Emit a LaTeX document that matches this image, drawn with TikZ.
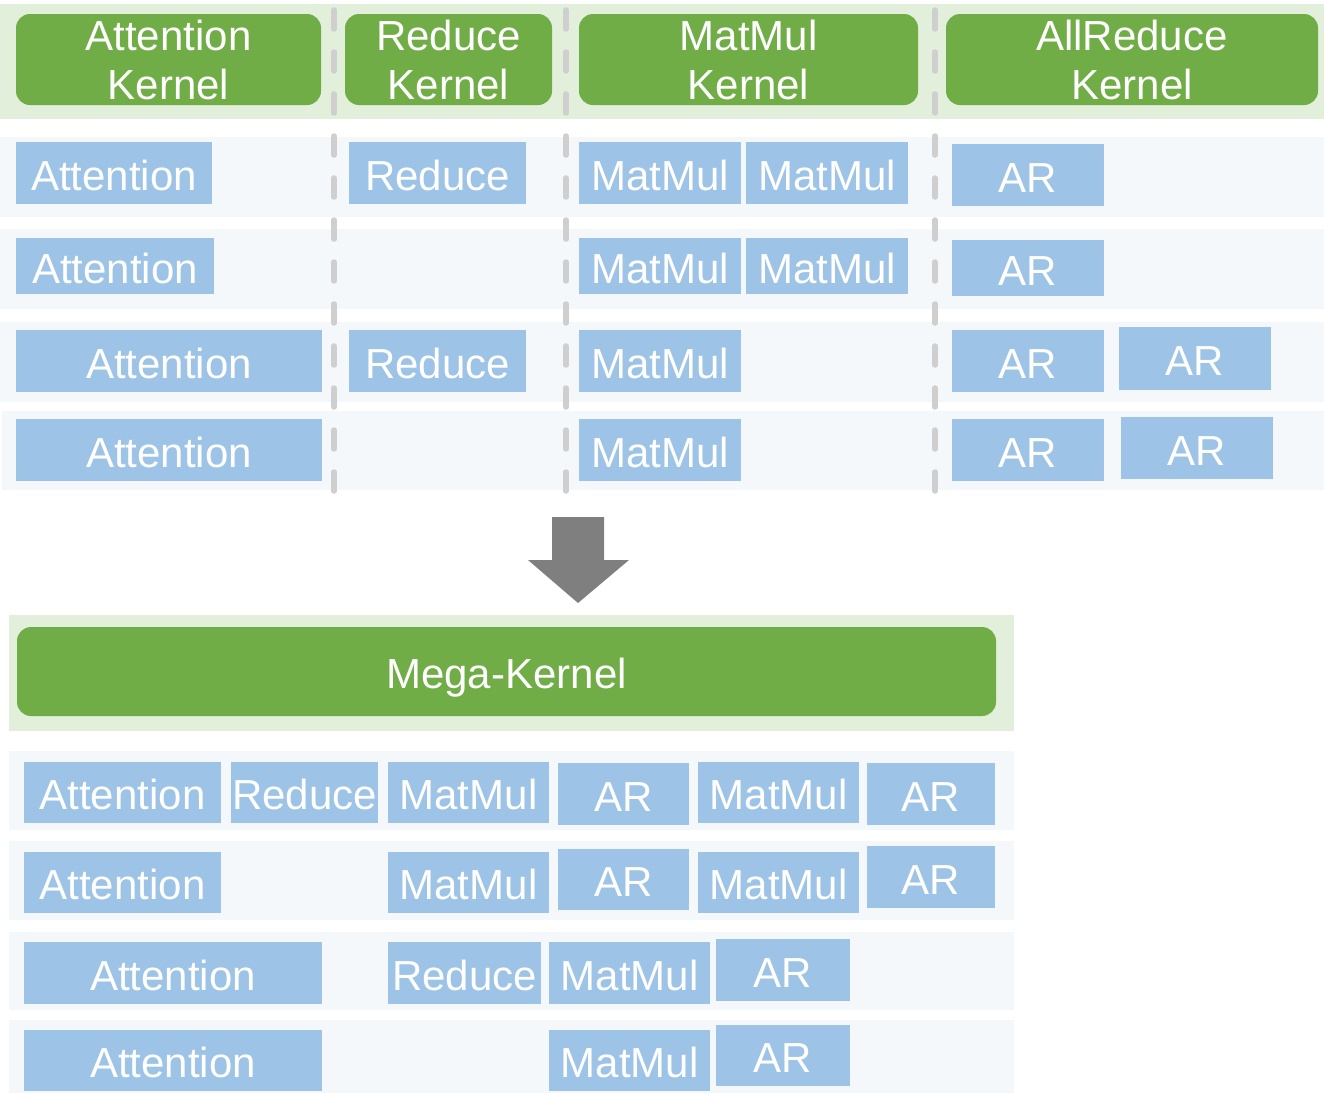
\documentclass[tikz,border=0pt]{standalone}
\usepackage{fontspec}
\setmainfont{Liberation Sans}

\definecolor{kgreen}{HTML}{70AD47}
\definecolor{kband}{HTML}{E2EFDA}
\definecolor{opblue}{HTML}{9DC3E6}
\definecolor{rowbg}{HTML}{F4F8FB}
\definecolor{sepgray}{HTML}{CFCFCF}
\definecolor{arrowgray}{HTML}{7F7F7F}

\tikzset{
  lbl/.style={font=\fontsize{42}{49}\selectfont, text=white, inner sep=0pt, align=center},
  oneline/.style={text height=34pt, text depth=0pt},
  opbox/.style={lbl, oneline, fill=opblue},
  kernelbox/.style={lbl, fill=kgreen, rounded corners=14pt},
  band/.style={fill=kband},
  rowband/.style={fill=rowbg},
  sepline/.style={draw=sepgray, line width=5.5pt, line cap=round, dash pattern=on 19pt off 23pt},
}

% \boxat[style]{name}{x1}{y1}{x2}{y2}{text}: box given by its corners (y grows downwards)
\newcommand\boxat[7][opbox]{%
  \node[#1, minimum width={#5-#3}, minimum height={#6-#4}]
    (#2) at ({(#3+#5)/2},{(#4+#6)/2}) {#7};}

\begin{document}
\begin{tikzpicture}[x=1pt, y=-1pt]
\useasboundingbox (0,0) rectangle (1324,1093);

% ---------- separate kernels ----------
\fill[band] (0,4) rectangle (1324,119);
\fill[rowband] (0,137) rectangle (1324,217);
\fill[rowband] (0,229) rectangle (1324,309);
\fill[rowband] (0,322) rectangle (1324,402);
\fill[rowband] (2,411) rectangle (1324,490);

\foreach \sx in {334,566,935}
  \draw[sepline] (\sx,10) -- (\sx,492);

\boxat[kernelbox]{kAtt}{16}{14}{321}{105}{Attention\\Kernel}
\boxat[kernelbox]{kRed}{345}{14}{552}{105}{Reduce\\Kernel}
\boxat[kernelbox]{kMM}{579}{14}{918}{105}{MatMul\\Kernel}
\boxat[kernelbox]{kAR}{946}{14}{1318}{105}{AllReduce\\Kernel}

% row 1
\boxat{a1}{16}{142}{212}{204}{Attention}
\boxat{r1}{349}{142}{526}{204}{Reduce}
\boxat{m1a}{579}{142}{741}{204}{MatMul}
\boxat{m1b}{746}{142}{908}{204}{MatMul}
\boxat{ar1}{952}{144}{1104}{206}{AR}
% row 2
\boxat{a2}{16}{238}{214}{294}{Attention}
\boxat{m2a}{579}{238}{741}{294}{MatMul}
\boxat{m2b}{746}{238}{908}{294}{MatMul}
\boxat{ar2}{952}{240}{1104}{296}{AR}
% row 3
\boxat{a3}{16}{330}{322}{392}{Attention}
\boxat{r3}{349}{330}{526}{392}{Reduce}
\boxat{m3}{579}{330}{741}{392}{MatMul}
\boxat{ar3a}{952}{330}{1104}{392}{AR}
\boxat{ar3b}{1119}{327}{1271}{390}{AR}
% row 4
\boxat{a4}{16}{419}{322}{481}{Attention}
\boxat{m4}{579}{419}{741}{481}{MatMul}
\boxat{ar4a}{952}{419}{1104}{481}{AR}
\boxat{ar4b}{1121}{417}{1273}{479}{AR}

% ---------- fusion arrow ----------
\fill[arrowgray] (552,517) -- (604,517) -- (604,560) -- (629,560) -- (578,603)
  -- (528,560) -- (552,560) -- cycle;

% ---------- mega-kernel ----------
\fill[band] (9,615) rectangle (1014,731);
\boxat[kernelbox, oneline]{mega}{17}{627}{996}{716}{Mega-Kernel}

\fill[rowband] (9,751) rectangle (1014,830);
\fill[rowband] (9,841) rectangle (1014,920);
\fill[rowband] (9,932) rectangle (1014,1010);
\fill[rowband] (9,1020) rectangle (1014,1093);

% row A
\boxat{ba1}{24}{762}{221}{823}{Attention}
\boxat{br1}{231}{762}{378}{823}{Reduce}
\boxat{bm1a}{388}{762}{549}{823}{MatMul}
\boxat{bar1a}{558}{763}{689}{825}{AR}
\boxat{bm1b}{698}{762}{859}{823}{MatMul}
\boxat{bar1b}{867}{763}{995}{825}{AR}
% row B
\boxat{ba2}{24}{852}{221}{913}{Attention}
\boxat{bm2a}{388}{852}{549}{913}{MatMul}
\boxat{bar2a}{558}{849}{689}{910}{AR}
\boxat{bm2b}{698}{852}{859}{913}{MatMul}
\boxat{bar2b}{867}{846}{995}{908}{AR}
% row C
\boxat{ba3}{24}{942}{322}{1004}{Attention}
\boxat{br3}{388}{942}{541}{1004}{Reduce}
\boxat{bm3}{549}{942}{710}{1004}{MatMul}
\boxat{bar3}{716}{939}{850}{1001}{AR}
% row D
\boxat{ba4}{24}{1030}{322}{1091}{Attention}
\boxat{bm4}{549}{1030}{710}{1091}{MatMul}
\boxat{bar4}{716}{1025}{850}{1086}{AR}

\end{tikzpicture}
\end{document}
